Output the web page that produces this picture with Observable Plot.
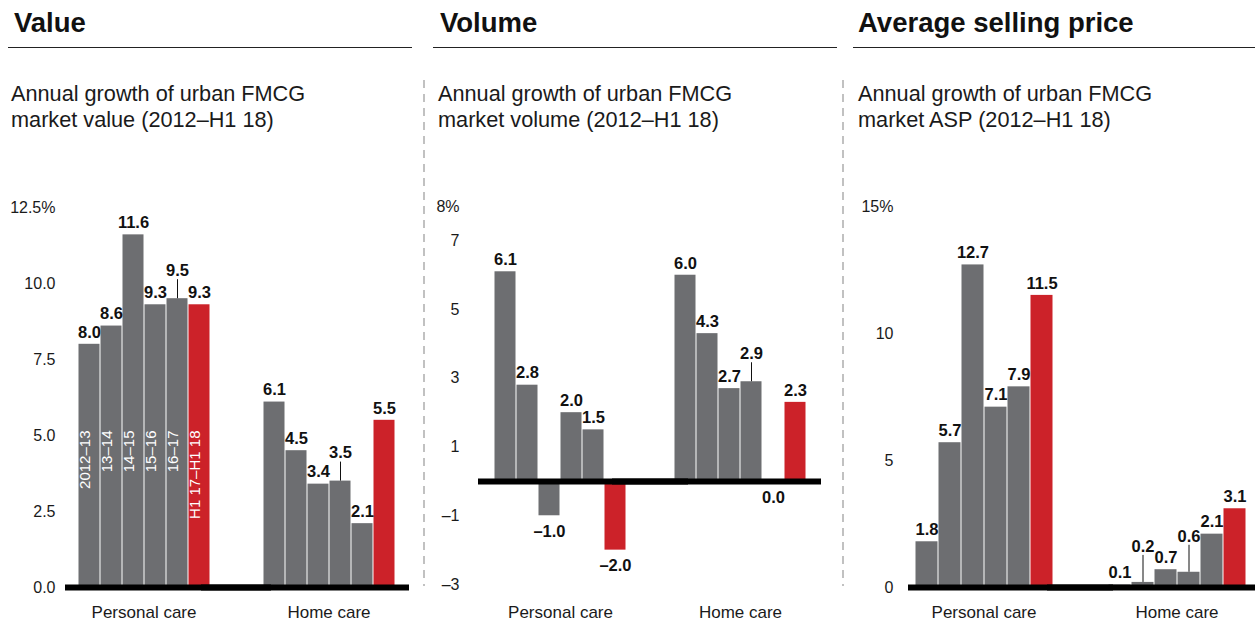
<!DOCTYPE html>
<html>
<head>
<meta charset="utf-8">
<script src="https://cdn.jsdelivr.net/npm/d3@7"></script>
<script src="https://cdn.jsdelivr.net/npm/@observablehq/plot@0.6"></script>
<style>
  body { margin: 0; background: #fff; font-family: "Liberation Sans", Arial, Helvetica, sans-serif; color: #1a1a1a; }
  #root { position: relative; width: 1255px; height: 623px; overflow: hidden; background: #fff; }
  .title { position: absolute; top: 8.5px; font-weight: bold; font-size: 27.5px; line-height: 27.5px; white-space: nowrap; color: #111; }
  .rule { position: absolute; top: 46.5px; height: 0; border-top: 1.5px solid #222; }
  .sub { position: absolute; top: 81px; font-size: 21.7px; line-height: 26px; white-space: nowrap; color: #1a1a1a; }
  .panel { position: absolute; top: 190px; }
  .sep { position: absolute; top: 80px; }
</style>
</head>
<body>
<div id="root"></div>
<script>
// ---------- data ----------
const categories = ["Personal care", "Home care"];
const periods = ["2012–13", "13–14", "14–15", "15–16", "16–17", "H1 17–H1 18"];

const valuePersonal = [8.0, 8.6, 11.6, 9.3, 9.5, 9.3];
const valueHome = [6.1, 4.5, 3.4, 3.5, 2.1, 5.5];
const volumePersonal = [6.1, 2.8, -1.0, 2.0, 1.5, -2.0];
const volumeHome = [6.0, 4.3, 2.7, 2.9, 0.0, 2.3];
const aspPersonal = [1.8, 5.7, 12.7, 7.1, 7.9, 11.5];
const aspHome = [0.1, 0.2, 0.7, 0.6, 2.1, 3.1];

// labels drawn with a leader line: [category, period]
const valueLeaders = [["Personal care", "16–17"], ["Home care", "15–16"]];
const volumeLeaders = [["Home care", "15–16"]];
const aspLeaders = [["Home care", "13–14"], ["Home care", "15–16"]];

const valueTicks = [0, 2.5, 5, 7.5, 10, 12.5];
const volumeTicks = [-3, -1, 1, 3, 5, 7, 8];
const aspTicks = [0, 5, 10, 15];

const titles = ["Value", "Volume", "Average selling price"];
const subtitles = [
  ["Annual growth of urban FMCG", "market value (2012–H1 18)"],
  ["Annual growth of urban FMCG", "market volume (2012–H1 18)"],
  ["Annual growth of urban FMCG", "market ASP (2012–H1 18)"]
];

// ---------- styling ----------
const GREY = "#6d6e71";
const RED = "#cc2229";
const root = document.getElementById("root");

function addDiv(cls, left, extra) {
  const d = document.createElement("div");
  d.className = cls;
  d.style.left = left + "px";
  if (extra) Object.assign(d.style, extra);
  root.appendChild(d);
  return d;
}

const headerLayout = [
  {title: 14, sub: 11, ruleL: 8, ruleR: 412},
  {title: 440, sub: 438, ruleL: 433, ruleR: 837},
  {title: 858, sub: 858, ruleL: 853, ruleR: 1255}
];
headerLayout.forEach((h, i) => {
  const t = addDiv("title", h.title);
  t.textContent = titles[i];
  addDiv("rule", h.ruleL, {width: (h.ruleR - h.ruleL) + "px"});
  const s = addDiv("sub", h.sub);
  subtitles[i].forEach((line, j) => {
    if (j) s.appendChild(document.createElement("br"));
    s.appendChild(document.createTextNode(line));
  });
});

// dashed separators
[424, 843].forEach(x => {
  const ns = "http://www.w3.org/2000/svg";
  const svg = document.createElementNS(ns, "svg");
  svg.setAttribute("class", "sep");
  svg.setAttribute("width", 4);
  svg.setAttribute("height", 506);
  svg.style.left = (x - 2) + "px";
  const l = document.createElementNS(ns, "line");
  l.setAttribute("x1", 2); l.setAttribute("x2", 2);
  l.setAttribute("y1", 0); l.setAttribute("y2", 506);
  l.setAttribute("stroke", "#a0a0a0");
  l.setAttribute("stroke-width", 1.3);
  l.setAttribute("stroke-dasharray", "8 6");
  svg.appendChild(l);
  root.appendChild(svg);
});

const fmtVal = v => (v < 0 ? "–" : "") + Math.abs(v).toFixed(1);

function makePanel(cfg) {
  const data = [];
  categories.forEach((cat, ci) => {
    cfg.series[ci].forEach((v, i) => {
      data.push({
        cat, period: periods[i], value: v,
        last: i === periods.length - 1,
        leader: cfg.leaders.some(([c, p]) => c === cat && p === periods[i])
      });
    });
  });
  const plain = data.filter(d => !d.leader);
  const lifted = data.filter(d => d.leader);
  const top = cfg.ticks[cfg.ticks.length - 1];
  const labelStyle = {fx: "cat", x: "period", y: "value", text: d => fmtVal(d.value), fontWeight: "bold", fontSize: 16.5, fill: "#111"};

  const marks = [
    Plot.barY(data, {fx: "cat", x: "period", y: "value", fill: d => d.last ? RED : GREY, insetLeft: 0.5, insetRight: 0.5}),
  ];
  if (cfg.inBar) {
    marks.push(Plot.text(data.filter(d => d.cat === categories[0]), {
      fx: "cat", x: "period", text: "period", rotate: -90, textAnchor: "end",
      frameAnchor: "bottom", dy: -157, fill: "white", fontSize: 15
    }));
  }
  marks.push(
    Plot.ruleY([{cat: categories[0], v: 0}], {fx: "cat", y: "v", stroke: "#000", strokeWidth: 6, insetLeft: -cfg.baseL, insetRight: -60}),
    Plot.ruleY([{cat: categories[1], v: 0}], {fx: "cat", y: "v", stroke: "#000", strokeWidth: 6, insetLeft: -60, insetRight: -cfg.baseR}),
    Plot.text(plain.filter(d => d.value > 0), {...labelStyle, dy: -12}),
    Plot.text(plain.filter(d => d.value <= 0), {...labelStyle, dy: 16}),
    Plot.ruleX(lifted, {fx: "cat", x: "period", y1: "value", y2: "value", insetTop: -(cfg.lift - 9), stroke: "#111", strokeWidth: 1}),
    Plot.text(lifted, {...labelStyle, dy: -cfg.lift}),
    Plot.axisY({ticks: cfg.ticks, tickFormat: d => cfg.tickFormat(d) + (d === top ? "%" : ""), tickSize: 0, tickPadding: cfg.yPad, fontSize: 16, label: null, fill: "#1a1a1a"}),
    Plot.axisFx({anchor: "bottom", tickSize: 0, tickPadding: cfg.fxPad, fontSize: 17, label: null, fill: "#1a1a1a"})
  );

  const chart = Plot.plot({
    width: cfg.width,
    height: 433,
    marginTop: cfg.mt,
    marginBottom: cfg.mb,
    marginLeft: cfg.ml,
    marginRight: cfg.mr,
    style: {fontFamily: "'Liberation Sans', Arial, sans-serif", background: "none", overflow: "visible", color: "#1a1a1a"},
    fx: {domain: categories, paddingInner: cfg.fxPadding, paddingOuter: 0, label: null},
    x: {domain: periods, paddingInner: 0, paddingOuter: 0, axis: null},
    y: {domain: cfg.domain, label: null},
    marks
  });
  const wrap = addDiv("panel", cfg.left);
  wrap.appendChild(chart);
}

makePanel({
  left: 0, width: 420, ml: 76, mr: 23, mt: 17, mb: 36, fxPadding: 0.27,
  domain: [0, 12.5], ticks: valueTicks, tickFormat: d => d.toFixed(1),
  yPad: 21, fxPad: 18, baseL: 11, baseR: 13, lift: 28,
  series: [valuePersonal, valueHome], leaders: valueLeaders, inBar: true
});
makePanel({
  left: 420, width: 420, ml: 72, mr: 31, mt: 16, mb: 39, fxPadding: 0.244,
  domain: [-3, 8], ticks: volumeTicks, tickFormat: d => (d < 0 ? "–" : "") + Math.abs(d),
  yPad: 33, fxPad: 21, baseL: 14, baseR: 13, lift: 28,
  series: [volumePersonal, volumeHome], leaders: volumeLeaders, inBar: false
});
makePanel({
  left: 840, width: 415, ml: 74, mr: 9, mt: 16, mb: 36, fxPadding: 0.28,
  domain: [0, 15], ticks: aspTicks, tickFormat: d => String(d),
  yPad: 21, fxPad: 18, baseL: 6, baseR: 9, lift: 36,
  series: [aspPersonal, aspHome], leaders: aspLeaders, inBar: false
});
</script>
</body>
</html>
